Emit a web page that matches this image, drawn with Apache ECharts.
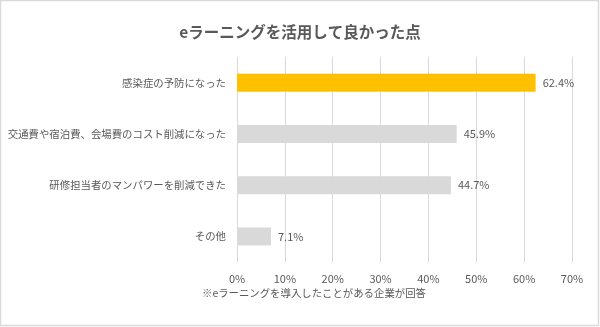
<!DOCTYPE html>
<html>
<head>
<meta charset="utf-8">
<script src="https://cdn.jsdelivr.net/npm/echarts@6/dist/echarts.min.js"></script>
<style>
  html, body { margin: 0; padding: 0; background: #fff; }
  #chart { width: 600px; height: 327px; }
</style>
</head>
<body>
<div id="chart"></div>
<script>
// Survey results: benefits of e-learning (percent of companies)
const categories = [
  '感染症の予防になった',
  '交通費や宿泊費、会場費のコスト削減になった',
  '研修担当者のマンパワーを削減できた',
  'その他'
];
const values = [62.4, 45.9, 44.7, 7.1];
const barColors = ['#FFC000', '#D9D9D9', '#D9D9D9', '#D9D9D9'];
const titleText = 'eラーニングを活用して良かった点';
const noteText = '※eラーニングを導入したことがある企業が回答';

const FONT = '"Noto Sans CJK JP", "Noto Sans", sans-serif';
const TEXT = '#595959';

const chart = echarts.init(document.getElementById('chart'), null, { renderer: 'canvas' });
chart.setOption({
  animation: false,
  backgroundColor: '#fff',
  textStyle: { fontFamily: FONT },
  title: {
    text: titleText,
    left: 'center',
    top: 19,
    textStyle: { fontFamily: FONT, fontSize: 15.5, fontWeight: 'bold', color: TEXT }
  },
  grid: {
    left: 237, right: 28, top: 57, bottom: 65,
    containLabel: false,
    outerBoundsMode: 'none'
  },
  xAxis: {
    type: 'value',
    min: 0, max: 70, interval: 10,
    axisLine: { show: false },
    axisTick: { show: false },
    splitLine: { show: true, lineStyle: { color: '#D9D9D9', width: 1 } },
    axisLabel: {
      formatter: '{value}%',
      margin: 11,
      fontFamily: FONT, fontSize: 11, color: TEXT
    }
  },
  yAxis: {
    type: 'category',
    data: categories,
    inverse: true,
    axisLine: { show: false },
    axisTick: { show: false },
    axisLabel: { margin: 11, fontFamily: FONT, fontSize: 10.4, color: TEXT }
  },
  series: [{
    type: 'bar',
    data: values.map((v, i) => ({ value: v, itemStyle: { color: barColors[i] } })),
    barWidth: 18,
    label: {
      show: true,
      position: 'right',
      distance: 7,
      formatter: p => p.value.toFixed(1) + '%',
      fontFamily: FONT, fontSize: 11, color: TEXT
    }
  }],
  graphic: [
    {
      type: 'rect',
      silent: true,
      shape: { x: 0.5, y: 0.5, width: 598, height: 325 },
      style: { fill: 'none', stroke: '#D9D9D9', lineWidth: 1.5 }
    },
    {
      type: 'text',
      left: 202,
      top: 288,
      style: { text: noteText, font: '10.4px ' + FONT, fill: TEXT }
    }
  ]
});
</script>
</body>
</html>
